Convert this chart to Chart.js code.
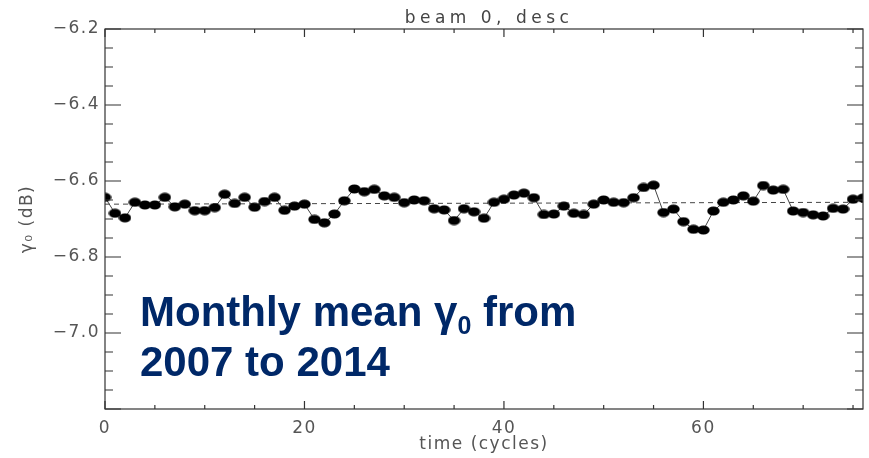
<!DOCTYPE html>
<html>
<head>
<meta charset="utf-8">
<script src="https://cdn.jsdelivr.net/npm/chart.js@4/dist/chart.umd.min.js"></script>
<style>
  html, body { margin: 0; padding: 0; background: #fff; }
  .cv-frame { position: relative; width: 869px; height: 458px; }
  .note {
    position: absolute; left: 140px; top: 287px;
    font-family: "Liberation Sans", Arial, sans-serif; font-weight: bold;
    font-size: 42px; line-height: 50px; color: #002868; white-space: nowrap;
  }
  .note sub { font-size: 25px; vertical-align: -8px; line-height: 0; }
</style>
</head>
<body>
<div class="cv-frame">
  <canvas id="chart"></canvas>
  <div class="note">Monthly mean γ<sub>0</sub> from<br>2007 to 2014</div>
</div>
<script>
// time in cycles (x) and monthly mean gamma0 in dB (y)
const cycles = [0,1,2,3,4,5,6,7,8,9,10,11,12,13,14,15,16,17,18,19,20,21,22,23,24,25,26,27,28,29,30,31,32,33,34,35,36,37,38,
  39,40,41,42,43,44,45,46,47,48,49,50,51,52,53,54,55,56,57,58,59,60,61,62,63,64,65,66,67,68,69,70,71,72,73,74,75,76];
const gamma0 = [-6.643,-6.685,-6.697,-6.656,-6.663,-6.663,-6.643,-6.668,-6.661,-6.678,-6.678,-6.670,-6.635,-6.659,-6.643,
  -6.669,-6.654,-6.643,-6.677,-6.666,-6.661,-6.701,-6.710,-6.687,-6.652,-6.621,-6.628,-6.622,-6.639,-6.643,-6.657,-6.650,
  -6.652,-6.673,-6.676,-6.704,-6.673,-6.681,-6.698,-6.656,-6.648,-6.637,-6.632,-6.644,-6.688,-6.687,-6.666,-6.685,-6.688,
  -6.661,-6.650,-6.656,-6.657,-6.644,-6.617,-6.611,-6.683,-6.674,-6.707,-6.727,-6.729,-6.679,-6.656,-6.650,-6.639,-6.653,
  -6.612,-6.624,-6.622,-6.679,-6.683,-6.689,-6.692,-6.672,-6.674,-6.648,-6.645];
const meanX = [0, 76];
const meanY = [-6.661, -6.656];
const xTicks = [0, 20, 40, 60];
const yTicks = [-7.0, -6.8, -6.6, -6.4, -6.2];
const xRange = [0, 76];
const yRange = [-7.2, -6.2];

// oval black marker
const dot = document.createElement('canvas');
dot.width = 13; dot.height = 10;
const dctx = dot.getContext('2d');
dctx.fillStyle = '#000';
dctx.beginPath();
dctx.ellipse(6.5, 5, 6.2, 4.6, 0, 0, Math.PI * 2);
dctx.fill();

const AXIS_FONT = { family: '"DejaVu Sans", sans-serif', size: 17, weight: 'normal' };

// IDL-style frame with inward ticks + plot title
const framePlugin = {
  id: 'frame',
  beforeDraw(chart) {
    chart.ctx.letterSpacing = '1.5px';
  },
  afterDraw(chart) {
    const { ctx, chartArea: a, scales: { x, y } } = chart;
    ctx.save();
    ctx.letterSpacing = '0px';
    ctx.strokeStyle = '#333';
    ctx.lineWidth = 1.2;
    ctx.strokeRect(a.left, a.top, a.right - a.left, a.bottom - a.top);
    ctx.beginPath();
    for (let i = 0; i <= 20; i++) {
      const py = y.getPixelForValue(yRange[0] + i * 0.05);
      const len = i % 4 === 0 ? 16 : 8;
      ctx.moveTo(a.left, py); ctx.lineTo(a.left + len, py);
      ctx.moveTo(a.right, py); ctx.lineTo(a.right - len, py);
    }
    for (let v = 0; v <= 75; v += 5) {
      const px = x.getPixelForValue(v);
      const len = v % 20 === 0 ? 8 : 4;
      ctx.moveTo(px, a.bottom); ctx.lineTo(px, a.bottom - len);
      ctx.moveTo(px, a.top); ctx.lineTo(px, a.top + len);
    }
    ctx.stroke();

    ctx.letterSpacing = '4.5px';
    ctx.font = 'normal 17px "DejaVu Sans", sans-serif';
    ctx.fillStyle = '#444';
    ctx.textAlign = 'center';
    ctx.textBaseline = 'alphabetic';
    ctx.fillText('beam 0, desc', 489, 23);
    ctx.restore();
  }
};

new Chart(document.getElementById('chart'), {
  type: 'line',
  data: {
    datasets: [
      {
        data: cycles.map((c, i) => ({ x: c, y: gamma0[i] })),
        borderColor: '#444',
        borderWidth: 1,
        pointStyle: dot,
        pointRadius: 5,
        clip: 0
      },
      {
        data: meanX.map((c, i) => ({ x: c, y: meanY[i] })),
        borderColor: '#444',
        borderWidth: 1,
        borderDash: [5, 4],
        pointRadius: 0,
        clip: 0
      }
    ]
  },
  options: {
    responsive: true,
    maintainAspectRatio: false,
    animation: false,
    layout: { padding: { top: 29, right: 1, left: 0, bottom: 0 } },
    plugins: { legend: { display: false }, tooltip: { enabled: false } },
    scales: {
      x: {
        type: 'linear',
        min: xRange[0], max: xRange[1],
        afterFit: s => { s.height = 49; },
        afterBuildTicks: s => { s.ticks = xTicks.map(v => ({ value: v })); },
        grid: { display: false, drawTicks: false },
        border: { display: false },
        ticks: { padding: 9, color: '#555', font: AXIS_FONT, callback: v => String(v) },
        title: { display: true, text: 'time (cycles)', color: '#555', font: AXIS_FONT, padding: { bottom: 3 } }
      },
      y: {
        min: yRange[0], max: yRange[1],
        afterFit: s => { s.width = 105; },
        afterBuildTicks: s => { s.ticks = yTicks.map(v => ({ value: v })); },
        grid: { display: false, drawTicks: false },
        border: { display: false },
        ticks: { padding: 5, color: '#555', font: AXIS_FONT, callback: v => '\u2212' + Math.abs(v).toFixed(1) },
        title: { display: true, text: 'γ\u2080 (dB)', color: '#555', font: AXIS_FONT, padding: { top: 17 } }
      }
    }
  },
  plugins: [framePlugin]
});
</script>
</body>
</html>
